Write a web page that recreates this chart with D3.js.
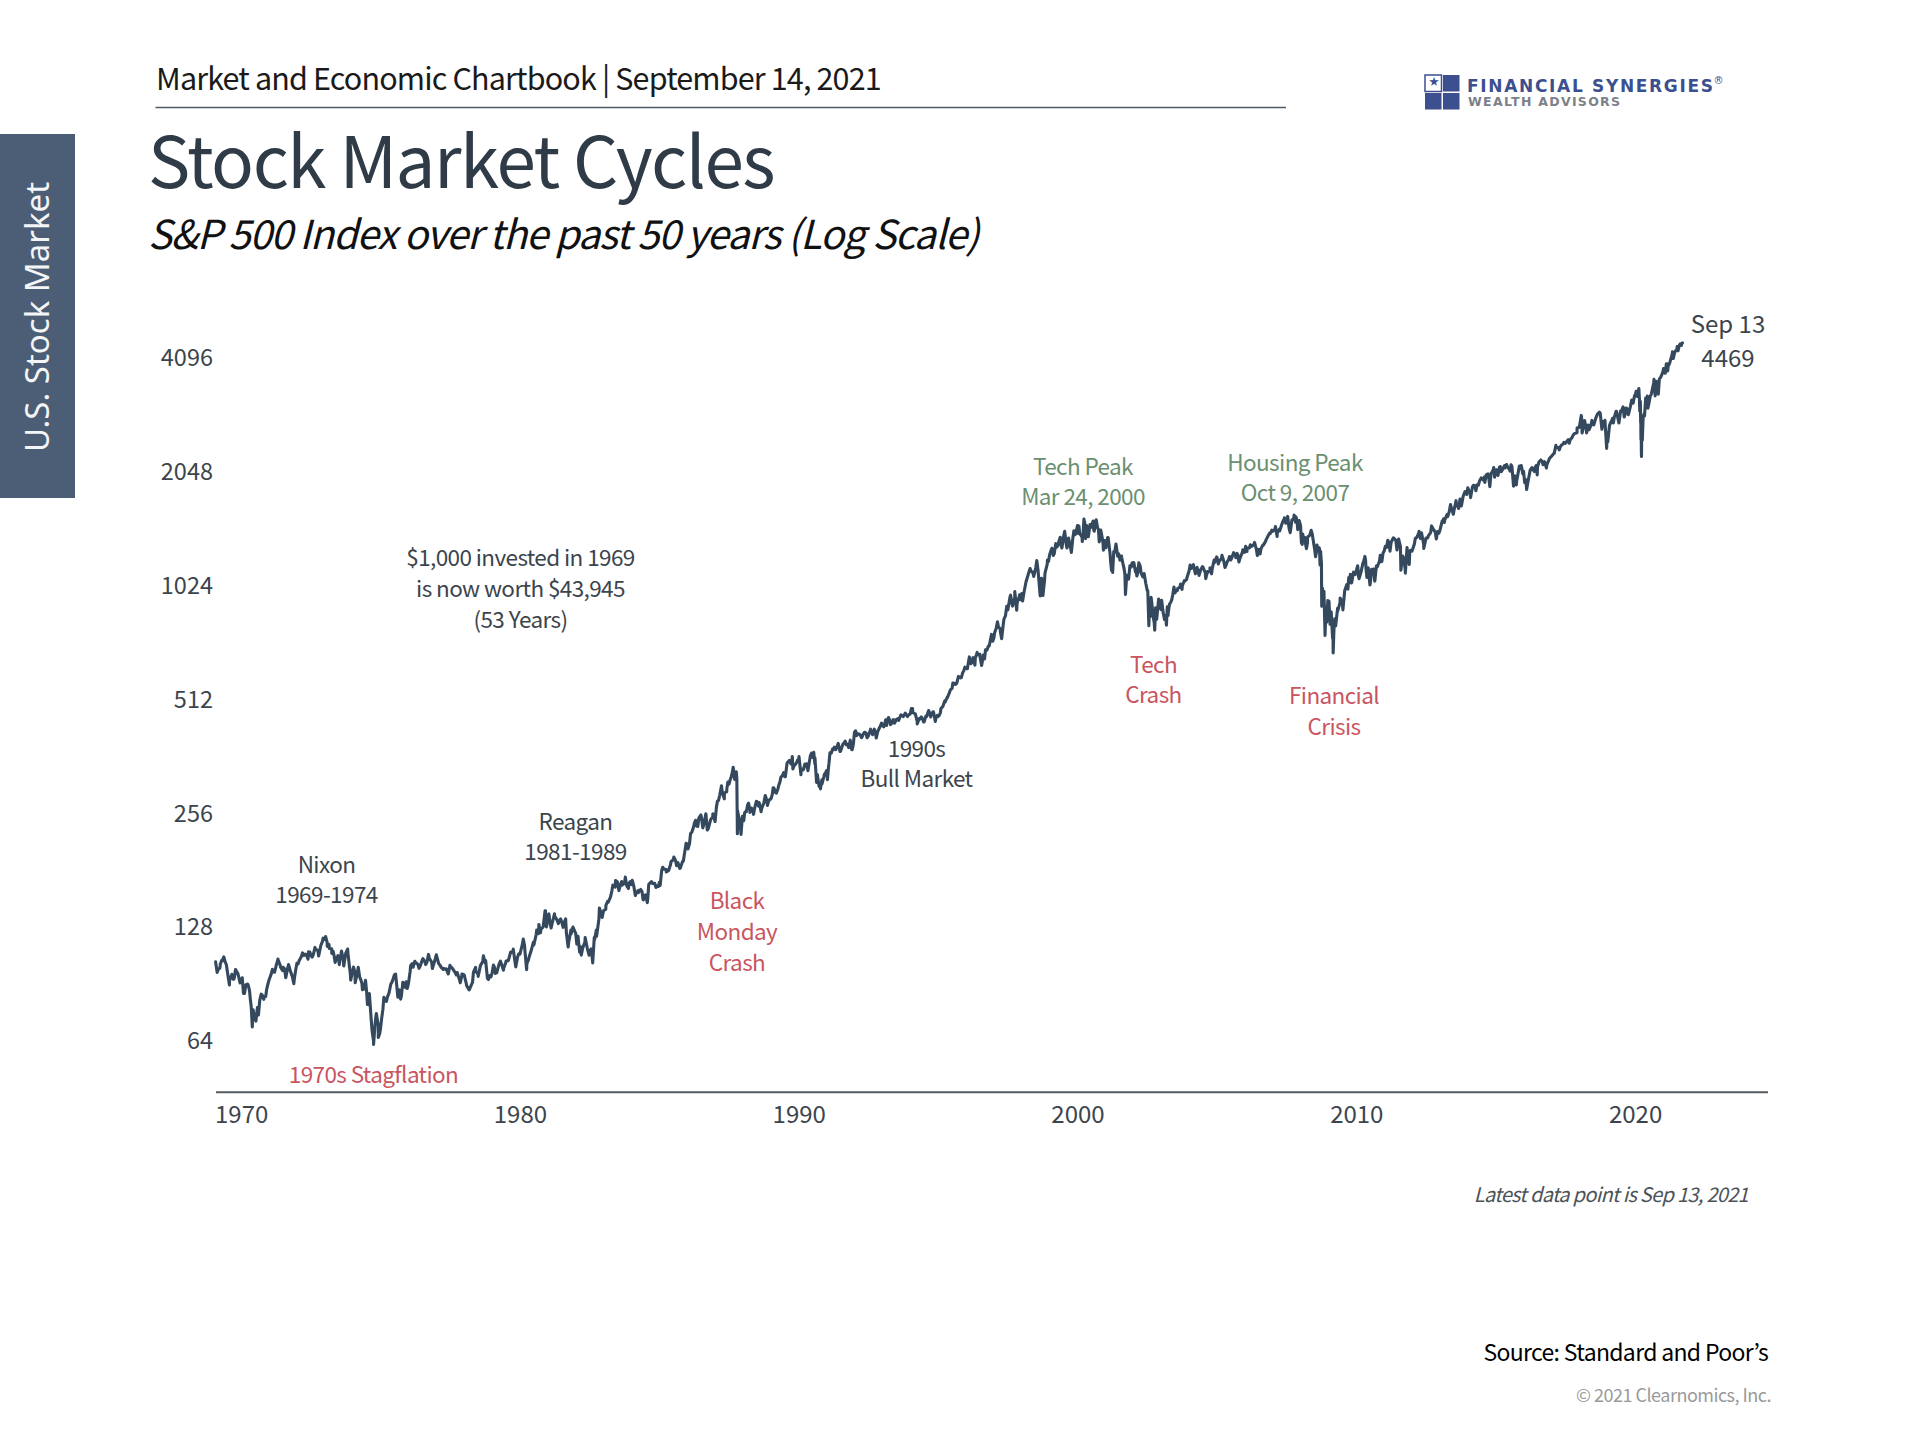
<!DOCTYPE html>
<html>
<head>
<meta charset="utf-8">
<script src="https://cdnjs.cloudflare.com/ajax/libs/d3/7.8.5/d3.min.js"></script>
<style>
  html, body { margin: 0; background: #fff; }
  svg { display: block; }
  text { font-family: "Noto Sans CJK JP", "Noto Sans", sans-serif; }
</style>
</head>
<body>
<svg id="chart" width="1920" height="1440"></svg>
<script>
// month-end closes, one row per year
const startYear = 1969;
const closes1970s = [
  103.0, 98.1, 101.5, 103.7, 103.5, 97.7, 91.8, 95.5, 93.1, 97.2, 93.8, 92.1,
  85.0, 89.5, 89.6, 81.5, 76.6, 72.7, 78.0, 81.5, 84.3, 83.3, 87.2, 92.2,
  95.9, 96.8, 100.3, 104.0, 99.6, 99.7, 95.6, 99.0, 98.3, 94.2, 94.0, 102.1,
  103.9, 106.6, 107.2, 107.7, 109.5, 107.1, 107.4, 111.1, 110.6, 111.6, 116.7, 118.1,
  116.0, 111.7, 111.5, 107.0, 105.0, 104.3, 108.2, 104.3, 108.4, 108.3, 96.0, 97.6,
  96.6, 96.2, 94.0, 90.3, 87.3, 86.0, 79.3, 72.2, 63.5, 73.9, 70.0, 68.6,
  77.0, 81.6, 83.4, 87.3, 91.2, 95.2, 88.8, 86.9, 83.9, 89.0, 91.2, 90.2,
  100.9, 99.7, 102.8, 101.6, 100.2, 104.3, 103.4, 102.9, 105.2, 102.9, 102.1, 107.5,
  102.0, 99.8, 98.4, 98.4, 96.1, 100.5, 98.9, 96.8, 96.5, 92.3, 94.8, 95.1,
  89.3, 87.0, 89.2, 96.8, 97.2, 95.5, 100.7, 103.3, 102.5, 93.2, 94.7, 96.1,
  99.9, 96.3, 101.6, 101.8, 99.1, 102.9, 103.8, 109.3, 109.3, 101.8, 106.2, 107.9
];
const closes1980s = [
  114.2, 113.7, 102.1, 106.3, 111.2, 114.2, 121.7, 122.4, 125.5, 127.5, 140.5, 135.8,
  129.6, 131.3, 136.0, 132.8, 132.6, 131.2, 130.9, 122.8, 116.2, 121.9, 126.4, 122.6,
  120.4, 113.1, 112.0, 116.4, 111.9, 109.6, 107.1, 119.5, 120.4, 133.7, 138.5, 140.6,
  145.3, 148.1, 153.0, 164.4, 162.4, 167.6, 162.6, 164.4, 166.1, 163.6, 166.4, 164.9,
  163.4, 157.1, 159.2, 160.1, 150.6, 153.2, 150.7, 166.7, 166.1, 166.1, 163.6, 167.2,
  179.6, 181.2, 180.7, 179.8, 189.6, 191.9, 190.9, 188.6, 182.1, 189.8, 202.2, 211.3,
  211.8, 226.9, 238.9, 235.5, 247.4, 250.8, 236.1, 252.9, 231.3, 244.0, 249.2, 242.2,
  274.1, 284.2, 291.7, 288.4, 290.1, 304.0, 318.7, 329.8, 321.8, 251.8, 230.3, 247.1,
  257.1, 267.8, 258.9, 261.3, 262.2, 273.5, 272.0, 261.5, 271.9, 279.0, 273.7, 277.7,
  297.5, 288.9, 294.9, 309.6, 320.5, 318.0, 346.1, 351.5, 349.2, 340.4, 346.0, 353.4
];
const closes1990s = [
  329.1, 331.9, 339.9, 330.8, 361.2, 358.0, 356.2, 322.6, 306.1, 304.0, 322.2, 330.2,
  343.9, 367.1, 375.2, 375.3, 389.8, 371.2, 387.8, 395.4, 387.9, 392.5, 375.2, 417.1,
  408.8, 412.7, 403.7, 415.0, 415.4, 408.1, 424.2, 414.0, 417.8, 418.7, 431.4, 435.7,
  438.8, 443.4, 451.7, 440.2, 450.2, 450.5, 448.1, 463.6, 458.9, 467.8, 461.8, 466.5,
  481.6, 467.1, 445.8, 450.9, 456.5, 444.3, 458.3, 475.5, 462.7, 472.4, 453.7, 459.3,
  470.4, 487.4, 500.7, 514.7, 533.4, 544.8, 562.1, 561.9, 584.4, 581.5, 605.4, 615.9,
  636.0, 640.4, 645.5, 654.2, 669.1, 670.6, 640.0, 652.0, 687.3, 705.3, 757.0, 740.7,
  786.2, 790.8, 757.1, 801.3, 848.3, 885.1, 954.3, 899.5, 947.3, 914.6, 955.4, 970.4,
  980.3, 1049.3, 1101.8, 1111.8, 1090.8, 1133.8, 1120.7, 957.3, 1017.0, 1098.7, 1163.6, 1229.2,
  1279.6, 1238.3, 1286.4, 1335.2, 1301.8, 1372.7, 1328.7, 1320.4, 1282.7, 1362.9, 1388.9, 1469.3
];
const closes2000s = [
  1394.5, 1366.4, 1498.6, 1452.4, 1420.6, 1454.6, 1430.8, 1517.7, 1436.5, 1429.4, 1315.0, 1320.3,
  1366.0, 1239.9, 1160.3, 1249.5, 1255.8, 1224.4, 1211.2, 1133.6, 1040.9, 1059.8, 1139.5, 1148.1,
  1130.2, 1106.7, 1147.4, 1076.9, 1067.1, 989.8, 911.6, 916.1, 815.3, 885.8, 936.3, 879.8,
  855.7, 841.2, 849.2, 916.9, 963.6, 974.5, 990.3, 1008.0, 996.0, 1050.7, 1058.2, 1111.9,
  1131.1, 1144.9, 1126.2, 1107.3, 1120.7, 1140.8, 1101.7, 1104.2, 1114.6, 1130.2, 1173.8, 1211.9,
  1181.3, 1203.6, 1180.6, 1156.9, 1191.5, 1191.3, 1234.2, 1220.3, 1228.8, 1207.0, 1249.5, 1248.3,
  1280.1, 1280.7, 1294.9, 1310.6, 1270.1, 1270.2, 1276.7, 1303.8, 1335.9, 1377.9, 1400.6, 1418.3,
  1438.2, 1406.8, 1420.9, 1482.4, 1530.6, 1503.4, 1455.3, 1474.0, 1526.8, 1549.4, 1481.1, 1468.4,
  1378.6, 1330.6, 1322.7, 1385.6, 1400.4, 1280.0, 1267.4, 1282.8, 1166.4, 968.8, 896.2, 903.3,
  825.9, 735.1, 797.9, 872.8, 919.1, 919.3, 987.5, 1020.6, 1057.1, 1036.2, 1095.6, 1115.1
];
const closes2010s = [
  1073.9, 1104.5, 1169.4, 1186.7, 1089.4, 1030.7, 1101.6, 1049.3, 1141.2, 1183.3, 1180.6, 1257.6,
  1286.1, 1327.2, 1325.8, 1363.6, 1345.2, 1320.6, 1292.3, 1218.9, 1131.4, 1253.3, 1247.0, 1257.6,
  1312.4, 1365.7, 1408.5, 1397.9, 1310.3, 1362.2, 1379.3, 1406.6, 1440.7, 1412.2, 1416.2, 1426.2,
  1498.1, 1514.7, 1569.2, 1597.6, 1630.7, 1606.3, 1685.7, 1633.0, 1681.6, 1756.5, 1805.8, 1848.4,
  1782.6, 1859.5, 1872.3, 1884.0, 1923.6, 1960.2, 1930.7, 2003.4, 1972.3, 2018.1, 2067.6, 2058.9,
  1995.0, 2104.5, 2067.9, 2085.5, 2107.4, 2063.1, 2103.8, 1972.2, 1920.0, 2079.4, 2080.4, 2043.9,
  1940.2, 1932.2, 2059.7, 2065.3, 2097.0, 2098.9, 2173.6, 2171.0, 2168.3, 2126.2, 2198.8, 2238.8,
  2278.9, 2363.6, 2362.7, 2384.2, 2411.8, 2423.4, 2470.3, 2471.7, 2519.4, 2575.3, 2584.8, 2673.6,
  2823.8, 2713.8, 2640.9, 2648.1, 2705.3, 2718.4, 2816.3, 2901.5, 2914.0, 2711.7, 2760.2, 2506.9,
  2704.1, 2784.5, 2834.4, 2945.8, 2752.1, 2941.8, 2980.4, 2926.5, 2976.7, 3037.6, 3141.0, 3230.8
];
const closes2020s = [
  3225.5, 2954.2, 2584.6, 2912.4, 3044.3, 3100.3, 3271.1, 3500.3, 3363.0, 3270.0, 3621.6, 3756.1,
  3714.2, 3811.2, 3972.9, 4181.2, 4204.1, 4297.5, 4395.3, 4440.0
];

// highs and lows between the month ends, as [date, value]
const swings1970s = [
  [1969.14, 96.6], [1969.24, 99.3], [1969.30, 103.9], [1969.38, 106.2], [1969.47, 101.2], [1969.53, 94.5], [1969.58, 89.5], [1969.66, 95.1], [1969.72, 92.6], [1969.80, 98.3], [1969.88, 96.0], [1969.96, 90.6],
  [1970.04, 93.5], [1970.12, 85.0], [1970.22, 90.0], [1970.30, 86.5], [1970.36, 78.6], [1970.40, 69.3], [1970.43, 76.9], [1970.47, 74.0], [1970.53, 71.8], [1970.62, 74.5], [1970.72, 84.6], [1970.81, 82.0], [1970.88, 83.4], [1970.96, 90.0],
  [1971.12, 98.4], [1971.20, 96.7], [1971.32, 104.8], [1971.41, 100.4], [1971.49, 97.7], [1971.55, 99.0], [1971.60, 93.5], [1971.70, 101.3], [1971.79, 96.2], [1971.89, 90.2], [1971.96, 98.3],
  [1972.04, 101.7], [1972.20, 108.8], [1972.30, 108.0], [1972.40, 104.7], [1972.47, 109.2], [1972.55, 106.0], [1972.65, 112.5], [1972.78, 106.8], [1972.86, 114.0], [1972.94, 119.0],
  [1973.03, 120.2], [1973.09, 113.2], [1973.15, 114.5], [1973.25, 108.5], [1973.30, 109.9], [1973.37, 102.7], [1973.47, 107.0], [1973.52, 101.3], [1973.60, 110.0], [1973.68, 100.5], [1973.82, 111.4], [1973.88, 100.7], [1973.93, 92.2],
  [1974.03, 99.8], [1974.09, 90.7], [1974.20, 99.7], [1974.30, 92.0], [1974.35, 86.9], [1974.40, 89.5], [1974.46, 92.1], [1974.53, 79.5], [1974.60, 84.9], [1974.70, 67.4], [1974.75, 62.3], [1974.80, 69.8], [1974.85, 75.2], [1974.92, 65.0], [1974.97, 66.6],
  [1975.04, 73.0], [1975.12, 83.0], [1975.21, 81.0], [1975.30, 85.0], [1975.37, 90.0], [1975.54, 95.6], [1975.62, 83.1], [1975.72, 82.1], [1975.80, 91.0], [1975.90, 88.0], [1975.96, 87.6],
  [1976.06, 97.0], [1976.14, 101.9], [1976.23, 103.4], [1976.38, 99.0], [1976.52, 105.0], [1976.62, 101.3], [1976.72, 107.8], [1976.86, 98.9], [1976.95, 104.0],
  [1977.01, 107.0], [1977.15, 100.5], [1977.26, 99.0], [1977.36, 98.7], [1977.43, 95.7], [1977.49, 100.9], [1977.72, 95.1], [1977.86, 90.7], [1977.92, 95.7],
  [1978.08, 90.0], [1978.18, 86.9], [1978.30, 91.0], [1978.41, 99.6], [1978.50, 94.3], [1978.69, 106.9], [1978.77, 103.9], [1978.87, 92.5], [1978.96, 94.0],
  [1979.05, 101.0], [1979.12, 96.0], [1979.30, 103.4], [1979.41, 97.9], [1979.50, 103.6], [1979.76, 111.3], [1979.85, 99.9], [1979.96, 108.2]
];
const swings1980s = [
  [1980.12, 118.4], [1980.18, 110.0], [1980.24, 98.2], [1980.30, 104.0], [1980.48, 116.0], [1980.60, 125.0], [1980.68, 129.3], [1980.74, 123.0], [1980.90, 140.5], [1980.95, 127.4],
  [1981.04, 138.0], [1981.12, 126.6], [1981.24, 138.0], [1981.38, 130.0], [1981.46, 133.8], [1981.55, 127.1], [1981.64, 133.8], [1981.73, 112.8], [1981.83, 125.0], [1981.90, 127.3],
  [1982.04, 114.8], [1982.14, 109.3], [1982.20, 107.3], [1982.34, 119.5], [1982.48, 107.3], [1982.55, 111.5], [1982.61, 102.4], [1982.68, 118.0], [1982.74, 125.0], [1982.85, 142.9], [1982.95, 135.0],
  [1983.08, 142.0], [1983.15, 149.0], [1983.30, 159.0], [1983.43, 169.1], [1983.55, 159.0], [1983.65, 168.0], [1983.78, 172.6], [1983.89, 161.0], [1983.96, 168.0],
  [1984.03, 169.3], [1984.14, 154.3], [1984.25, 157.0], [1984.38, 158.0], [1984.43, 150.3], [1984.50, 155.0], [1984.57, 147.8], [1984.62, 165.0], [1984.72, 168.0], [1984.88, 162.0], [1984.97, 163.0],
  [1985.03, 164.0], [1985.12, 183.3], [1985.25, 178.0], [1985.40, 186.0], [1985.52, 195.1], [1985.62, 185.0], [1985.73, 182.0], [1985.86, 190.0], [1985.96, 212.0],
  [1986.03, 205.0], [1986.12, 225.0], [1986.24, 236.0], [1986.30, 244.0], [1986.38, 235.0], [1986.49, 252.0], [1986.56, 233.0], [1986.67, 254.0], [1986.72, 229.9], [1986.84, 245.0], [1986.92, 254.0], [1986.97, 247.0],
  [1987.05, 265.0], [1987.12, 275.0], [1987.23, 301.0], [1987.29, 284.0], [1987.33, 278.0], [1987.42, 295.0], [1987.46, 308.0], [1987.54, 312.0], [1987.60, 322.0], [1987.65, 336.8], [1987.70, 313.0], [1987.74, 323.0], [1987.76, 328.0], [1987.78, 314.5], [1987.80, 224.8], [1987.81, 258.4], [1987.85, 248.0], [1987.90, 242.0], [1987.93, 223.9], [1987.98, 250.0],
  [1988.03, 243.4], [1988.06, 255.0], [1988.12, 257.0], [1988.20, 271.0], [1988.25, 256.0], [1988.30, 263.0], [1988.38, 253.0], [1988.48, 273.8], [1988.56, 266.0], [1988.65, 257.0], [1988.74, 270.0], [1988.80, 283.7], [1988.88, 267.0], [1988.96, 277.0],
  [1989.05, 285.0], [1989.11, 297.0], [1989.20, 288.0], [1989.28, 301.0], [1989.36, 317.0], [1989.46, 326.0], [1989.52, 318.0], [1989.60, 347.0], [1989.72, 344.0], [1989.77, 359.8], [1989.79, 333.6], [1989.88, 343.0], [1989.97, 353.0]
];
const swings1990s = [
  [1990.01, 359.7], [1990.08, 322.0], [1990.12, 333.0], [1990.22, 343.5], [1990.28, 344.3], [1990.33, 330.0], [1990.46, 367.4], [1990.54, 369.0], [1990.58, 344.0], [1990.64, 307.1], [1990.67, 322.0], [1990.73, 300.0], [1990.78, 295.5], [1990.83, 312.0], [1990.90, 318.0], [1990.96, 326.0],
  [1991.03, 312.5], [1991.07, 338.0], [1991.12, 368.0], [1991.22, 377.0], [1991.28, 381.0], [1991.36, 380.0], [1991.42, 389.0], [1991.48, 371.0], [1991.62, 390.0], [1991.70, 387.0], [1991.79, 380.0], [1991.85, 397.4], [1991.90, 375.2], [1991.96, 388.0],
  [1992.04, 420.8], [1992.12, 413.0], [1992.20, 411.0], [1992.26, 404.0], [1992.36, 417.0], [1992.45, 403.5], [1992.58, 425.1], [1992.65, 411.0], [1992.71, 425.0], [1992.78, 402.7], [1992.88, 426.0], [1992.97, 441.0],
  [1993.05, 431.0], [1993.12, 450.0], [1993.15, 434.8], [1993.22, 456.3], [1993.29, 437.0], [1993.38, 450.0], [1993.44, 441.0], [1993.56, 453.0], [1993.66, 463.0], [1993.72, 461.0], [1993.82, 468.6], [1993.90, 459.0],
  [1994.04, 482.0], [1994.09, 470.0], [1994.18, 467.0], [1994.25, 438.9], [1994.32, 453.0], [1994.40, 458.0], [1994.48, 444.0], [1994.56, 460.0], [1994.66, 476.1], [1994.73, 458.0], [1994.81, 472.0], [1994.90, 445.5], [1994.97, 462.0],
  [1995.03, 461.0], [1995.10, 482.0], [1995.24, 505.0], [1995.33, 517.0], [1995.44, 540.0], [1995.53, 563.0], [1995.62, 558.0], [1995.73, 586.0], [1995.80, 581.0], [1995.88, 599.0], [1995.96, 620.0],
  [1996.05, 614.0], [1996.12, 660.0], [1996.18, 633.5], [1996.25, 657.0], [1996.32, 628.0], [1996.40, 678.5], [1996.50, 663.0], [1996.56, 626.7], [1996.62, 667.0], [1996.70, 689.0], [1996.80, 704.0], [1996.92, 756.0], [1996.96, 726.0],
  [1997.03, 766.0], [1997.13, 817.0], [1997.22, 785.0], [1997.28, 737.7], [1997.36, 830.0], [1997.46, 898.0], [1997.50, 878.0], [1997.60, 961.0], [1997.67, 900.0], [1997.75, 983.1], [1997.82, 876.99], [1997.86, 930.0], [1997.92, 963.0], [1997.96, 936.0],
  [1998.03, 927.7], [1998.16, 1050.0], [1998.30, 1130.5], [1998.38, 1108.0], [1998.43, 1078.0], [1998.54, 1186.8], [1998.60, 1085.0], [1998.66, 957.3], [1998.71, 1066.0], [1998.76, 959.4], [1998.82, 1056.0], [1998.92, 1190.0], [1998.96, 1180.0],
  [1999.07, 1275.0], [1999.13, 1225.0], [1999.22, 1316.0], [1999.30, 1300.0], [1999.38, 1367.6], [1999.44, 1281.0], [1999.54, 1418.8], [1999.62, 1281.4], [1999.68, 1362.0], [1999.78, 1247.4], [1999.87, 1422.0], [1999.94, 1403.0]
];
const swings2000s = [
  [2000.01, 1469.3], [2000.02, 1399.4], [2000.05, 1465.2], [2000.12, 1387.0], [2000.17, 1333.4], [2000.20, 1395.0], [2000.23, 1527.5], [2000.26, 1498.6], [2000.29, 1356.6], [2000.33, 1469.0], [2000.39, 1373.0], [2000.45, 1478.0], [2000.52, 1480.0], [2000.56, 1510.0], [2000.60, 1419.0], [2000.67, 1520.8], [2000.72, 1450.0], [2000.78, 1329.8], [2000.82, 1395.0], [2000.88, 1372.3], [2000.93, 1264.7], [2000.97, 1340.0],
  [2001.02, 1283.3], [2001.06, 1342.5], [2001.10, 1364.3], [2001.19, 1178.0], [2001.22, 1117.6], [2001.26, 1103.3], [2001.30, 1253.7], [2001.38, 1312.8], [2001.44, 1219.0], [2001.47, 1237.0], [2001.52, 1190.0], [2001.58, 1220.0], [2001.63, 1165.0], [2001.70, 1092.5], [2001.72, 965.8], [2001.76, 1085.0], [2001.82, 1079.0], [2001.88, 1150.0], [2001.96, 1170.0],
  [2002.02, 1172.5], [2002.08, 1108.0], [2002.13, 1080.0], [2002.20, 1170.3], [2002.28, 1103.0], [2002.35, 1074.0], [2002.39, 1097.0], [2002.45, 1032.0], [2002.52, 989.0], [2002.55, 843.4], [2002.56, 797.7], [2002.58, 898.0], [2002.60, 842.0], [2002.64, 949.4], [2002.71, 845.0], [2002.77, 776.8], [2002.80, 890.0], [2002.84, 830.0], [2002.91, 938.9], [2002.96, 889.0],
  [2003.02, 931.7], [2003.06, 878.0], [2003.12, 829.7], [2003.16, 850.0], [2003.19, 800.7], [2003.22, 895.8], [2003.25, 858.0], [2003.30, 911.0], [2003.38, 934.0], [2003.46, 1010.7], [2003.53, 985.0], [2003.60, 1003.0], [2003.70, 1029.0], [2003.76, 1018.0], [2003.84, 1045.0], [2003.92, 1066.0], [2003.97, 1095.0],
  [2004.04, 1155.0], [2004.12, 1139.0], [2004.16, 1157.8], [2004.23, 1095.0], [2004.29, 1139.0], [2004.36, 1084.1], [2004.48, 1144.0], [2004.60, 1063.2], [2004.66, 1110.0], [2004.75, 1135.0], [2004.81, 1095.0], [2004.90, 1190.0], [2004.99, 1213.5],
  [2005.05, 1163.0], [2005.18, 1225.3], [2005.29, 1137.5], [2005.37, 1178.0], [2005.45, 1216.0], [2005.52, 1200.0], [2005.60, 1245.0], [2005.68, 1208.0], [2005.72, 1240.0], [2005.79, 1176.8], [2005.93, 1268.0], [2005.99, 1248.0],
  [2006.03, 1294.2], [2006.08, 1254.0], [2006.20, 1307.0], [2006.35, 1325.8], [2006.45, 1223.7], [2006.52, 1270.0], [2006.55, 1236.0], [2006.65, 1305.0], [2006.75, 1340.0], [2006.90, 1406.0], [2006.97, 1428.0],
  [2007.10, 1459.7], [2007.16, 1374.1], [2007.24, 1437.0], [2007.38, 1515.0], [2007.42, 1539.2], [2007.47, 1490.0], [2007.54, 1553.1], [2007.60, 1433.0], [2007.63, 1406.7], [2007.69, 1520.0], [2007.77, 1565.2], [2007.82, 1500.0], [2007.87, 1520.0], [2007.90, 1433.3], [2007.95, 1515.0],
  [2008.03, 1325.0], [2008.06, 1310.5], [2008.08, 1395.0], [2008.13, 1355.0], [2008.15, 1367.0], [2008.21, 1276.6], [2008.25, 1368.0], [2008.38, 1426.6], [2008.46, 1336.0], [2008.54, 1214.9], [2008.59, 1305.0], [2008.63, 1256.0], [2008.68, 1277.6], [2008.70, 1156.4], [2008.72, 1255.0], [2008.76, 899.2], [2008.79, 1003.0], [2008.81, 907.0], [2008.84, 985.0], [2008.88, 752.4], [2008.91, 896.0], [2008.94, 816.0], [2008.98, 931.0],
  [2009.02, 927.0], [2009.06, 805.0], [2009.10, 869.0], [2009.15, 741.0], [2009.17, 676.5], [2009.20, 784.0], [2009.23, 832.0], [2009.26, 797.0], [2009.33, 888.0], [2009.42, 945.0], [2009.52, 879.1], [2009.58, 980.0], [2009.66, 1026.0], [2009.70, 998.0], [2009.73, 1071.0], [2009.79, 1092.0], [2009.81, 1036.0], [2009.90, 1106.0], [2009.96, 1090.0]
];
const swings2010s = [
  [2010.05, 1150.2], [2010.10, 1063.1], [2010.24, 1170.0], [2010.31, 1217.3], [2010.35, 1128.0], [2010.38, 1071.6], [2010.43, 1135.0], [2010.49, 1022.6], [2010.55, 1125.0], [2010.62, 1127.0], [2010.66, 1047.0], [2010.72, 1148.0], [2010.86, 1225.9], [2010.90, 1178.0], [2010.96, 1243.0],
  [2011.04, 1295.0], [2011.13, 1343.0], [2011.21, 1256.9], [2011.33, 1363.6], [2011.46, 1265.4], [2011.52, 1353.2], [2011.60, 1119.5], [2011.65, 1210.0], [2011.70, 1204.0], [2011.76, 1099.2], [2011.82, 1285.1], [2011.90, 1158.7], [2011.94, 1263.0],
  [2012.03, 1277.0], [2012.12, 1361.0], [2012.25, 1419.0], [2012.30, 1358.6], [2012.34, 1405.0], [2012.42, 1278.0], [2012.46, 1314.9], [2012.56, 1362.0], [2012.70, 1465.8], [2012.87, 1353.3], [2012.96, 1402.4],
  [2013.08, 1509.0], [2013.13, 1530.9], [2013.16, 1497.0], [2013.28, 1552.0], [2013.38, 1669.2], [2013.48, 1573.1], [2013.58, 1709.7], [2013.67, 1630.5], [2013.72, 1725.5], [2013.77, 1655.5], [2013.90, 1807.0], [2013.96, 1775.0],
  [2014.10, 1741.9], [2014.20, 1878.0], [2014.29, 1815.7], [2014.38, 1878.0], [2014.48, 1962.9], [2014.60, 1978.0], [2014.61, 1909.6], [2014.72, 2011.4], [2014.79, 1862.5], [2014.84, 2018.0], [2014.93, 2090.6], [2014.96, 1972.7],
  [2015.04, 2062.0], [2015.08, 1992.7], [2015.14, 2100.0], [2015.20, 2040.2], [2015.32, 2117.7], [2015.39, 2130.8], [2015.52, 2046.7], [2015.55, 2128.3], [2015.64, 1867.6], [2015.68, 1990.0], [2015.74, 1881.8], [2015.85, 2109.8], [2015.92, 2116.0], [2015.97, 2012.7],
  [2016.04, 1906.9], [2016.08, 1940.0], [2016.11, 1829.1], [2016.24, 2063.0], [2016.30, 2091.6], [2016.39, 2040.0], [2016.46, 2119.1], [2016.49, 2000.5], [2016.56, 2169.0], [2016.62, 2190.2], [2016.70, 2127.8], [2016.82, 2085.2], [2016.93, 2212.4],
  [2017.10, 2280.9], [2017.16, 2395.9], [2017.28, 2329.0], [2017.37, 2402.0], [2017.45, 2439.0], [2017.60, 2477.6], [2017.64, 2425.6], [2017.78, 2550.0], [2017.92, 2660.0],
  [2018.07, 2872.9], [2018.10, 2581.0], [2018.19, 2786.6], [2018.26, 2581.9], [2018.32, 2708.6], [2018.35, 2634.0], [2018.45, 2786.9], [2018.52, 2713.0], [2018.65, 2897.0], [2018.72, 2930.8], [2018.81, 2641.3], [2018.84, 2767.0], [2018.89, 2690.7], [2018.92, 2790.0], [2018.98, 2351.1], [2018.995, 2467.7],
  [2019.02, 2447.9], [2019.12, 2745.7], [2019.19, 2822.5], [2019.22, 2743.1], [2019.32, 2945.8], [2019.42, 2744.5], [2019.48, 2950.0], [2019.57, 3025.9], [2019.61, 2844.7], [2019.68, 3006.7], [2019.76, 2887.6], [2019.88, 3153.6], [2019.93, 3093.2], [2019.98, 3240.0]
];
const swings2020s = [
  [2020.04, 3329.6], [2020.09, 3248.9], [2020.135, 3386.2], [2020.16, 3128.2], [2020.18, 2954.2], [2020.19, 3130.1], [2020.20, 2746.6], [2020.205, 2882.2], [2020.21, 2480.6], [2020.22, 2711.0], [2020.225, 2304.9], [2020.23, 2237.4], [2020.24, 2630.1], [2020.26, 2470.5], [2020.29, 2846.1], [2020.34, 2863.7], [2020.38, 3193.9], [2020.44, 3232.4], [2020.46, 3002.1], [2020.54, 3226.6], [2020.68, 3580.8], [2020.72, 3236.9], [2020.78, 3534.2], [2020.83, 3310.2], [2020.87, 3585.2], [2020.97, 3702.3],
  [2021.02, 3824.7], [2021.07, 3714.2], [2021.12, 3934.8], [2021.17, 3768.5], [2021.20, 3943.3], [2021.22, 3915.0], [2021.34, 4232.6], [2021.37, 4063.0], [2021.42, 4221.9], [2021.51, 4369.6], [2021.54, 4258.5], [2021.62, 4441.7], [2021.66, 4400.0]
];
const lastPoint = [2021.70, 4469];

const yTicks = [64, 128, 256, 512, 1024, 2048, 4096];
const xTicks = [1970, 1980, 1990, 2000, 2010, 2020];

const dark = "#3c454d", red = "#c9555f", green = "#6b8f70", lineColor = "#34495e";

// text, centre x, baselines
const notes = [
  { lines: ["Nixon", "1969-1974"], x: 326.5, ys: [873, 903], color: dark },
  { lines: ["Reagan", "1981-1989"], x: 575.5, ys: [830, 860], color: dark },
  { lines: ["1990s", "Bull Market"], x: 916.5, ys: [757, 787], color: dark },
  { lines: ["$1,000 invested in 1969", "is now worth $43,945", "(53 Years)"], x: 520.5, ys: [566, 597, 628], color: dark },
  { lines: ["1970s Stagflation"], x: 373.5, ys: [1083], color: red },
  { lines: ["Black", "Monday", "Crash"], x: 737, ys: [909, 940, 971], color: red },
  { lines: ["Tech", "Crash"], x: 1153.5, ys: [673, 703], color: red },
  { lines: ["Financial", "Crisis"], x: 1334, ys: [704, 735], color: red },
  { lines: ["Tech Peak", "Mar 24, 2000"], x: 1083, ys: [475, 505], color: green },
  { lines: ["Housing Peak", "Oct 9, 2007"], x: 1295, ys: [471, 501], color: green }
];
const endNote = ["Sep 13", "4469"];

const svg = d3.select("#chart");

const x = d3.scaleLinear().domain([1969.08, 2024.75]).range([215.5, 1767.5]);
const y = d3.scaleLog().base(2).domain([64, 4096]).range([1040, 357.2]);

// merge month ends and swings into one series
const closes = [].concat(closes1970s, closes1980s, closes1990s, closes2000s, closes2010s, closes2020s);
const monthly = closes.map((v, i) => [startYear + (i + 1) / 12, v]);
const series = monthly.concat(swings1970s, swings1980s, swings1990s, swings2000s, swings2010s, swings2020s, [lastPoint])
  .filter(d => d[0] >= 1969.08)
  .sort((a, b) => a[0] - b[0]);

// header
svg.append("text").attr("x", 156).attr("y", 90).attr("font-size", 30.5).attr("fill", "#1a1a1a")
  .style("letter-spacing", "-0.85px")
  .text("Market and Economic Chartbook | September 14, 2021");
svg.append("line").attr("x1", 155.5).attr("x2", 1286).attr("y1", 107.5).attr("y2", 107.5)
  .attr("stroke", "#4d5c68").attr("stroke-width", 1.5);
svg.append("text").attr("x", 148).attr("y", 188).attr("font-size", 71).attr("fill", "#2f3b46")
  .style("letter-spacing", "-1.5px")
  .text("Stock Market Cycles");
svg.append("text").attr("x", 148).attr("y", 249).attr("font-size", 40).attr("font-style", "italic").attr("fill", "#111")
  .style("letter-spacing", "-1.2px")
  .text("S&P 500 Index over the past 50 years (Log Scale)");

// side tab
svg.append("rect").attr("x", 0).attr("y", 134).attr("width", 75).attr("height", 364).attr("fill", "#4b5e75");
svg.append("text").attr("transform", "translate(49,317) rotate(-90)").attr("text-anchor", "middle")
  .attr("font-size", 33).attr("fill", "#f4f5f7").style("font-family", "'Noto Sans', sans-serif")
  .text("U.S. Stock Market");

// logo
const logo = svg.append("g");
const logoBlue = "#3c4f8e";
[[1425, 75], [1443, 75], [1425, 93], [1443, 93]].forEach((d, i) => {
  logo.append("rect").attr("x", d[0]).attr("y", d[1]).attr("width", 16.5).attr("height", 16.5)
    .attr("fill", i === 0 ? "#fff" : logoBlue).attr("stroke", i === 0 ? logoBlue : "none").attr("stroke-width", 1.5);
});
logo.append("text").attr("x", 1429).attr("y", 85).attr("font-size", 10).attr("fill", logoBlue).text("★");
logo.append("text").attr("x", 1467).attr("y", 91.5).attr("font-size", 17).attr("font-weight", "bold").attr("fill", logoBlue)
  .style("font-family", "'DejaVu Sans', sans-serif").attr("textLength", 246).text("FINANCIAL SYNERGIES");
logo.append("text").attr("x", 1713.5).attr("y", 84).attr("font-size", 10).attr("fill", logoBlue)
  .style("font-family", "'DejaVu Sans', sans-serif").text("®");
logo.append("text").attr("x", 1468).attr("y", 105.5).attr("font-size", 12.5).attr("font-weight", "bold").attr("fill", "#7c8087")
  .style("font-family", "'DejaVu Sans', sans-serif").attr("textLength", 152).text("WEALTH ADVISORS");

// axes
const yAxis = svg.append("g").attr("transform", "translate(215,0)")
  .call(d3.axisLeft(y).tickValues(yTicks).tickSize(0).tickPadding(2).tickFormat(d3.format("d")));
yAxis.select(".domain").remove();
const xAxis = svg.append("g").attr("transform", "translate(0,1091.7)")
  .call(d3.axisBottom(x).tickValues(xTicks).tickSize(0).tickPadding(14.5).tickSizeOuter(0).tickFormat(d3.format("d")));
xAxis.select(".domain").attr("stroke", "#555b60").attr("stroke-width", 2);
svg.selectAll(".tick text").attr("fill", dark)
  .style("font-family", "'Noto Sans CJK JP', sans-serif");
yAxis.selectAll(".tick text").attr("font-size", 23.5).attr("dy", "0.37em");
xAxis.selectAll(".tick text").attr("font-size", 24);

// index line
const line = d3.line().x(d => x(d[0])).y(d => y(d[1]));
svg.append("path").datum(series).attr("d", line).attr("fill", "none")
  .attr("stroke", lineColor).attr("stroke-width", 3.1).attr("stroke-linejoin", "round").attr("stroke-linecap", "round");

// annotations
notes.forEach(n => {
  n.lines.forEach((t, i) => {
    svg.append("text").attr("x", n.x).attr("y", n.ys[i]).attr("text-anchor", "middle")
      .attr("font-size", 22.5).attr("fill", n.color).style("letter-spacing", "-0.6px").text(t);
  });
});
endNote.forEach((t, i) => {
  svg.append("text").attr("x", 1728).attr("y", [333, 367][i]).attr("text-anchor", "middle")
    .attr("font-size", 24).attr("fill", dark).text(t);
});

// footer notes
svg.append("text").attr("x", 1748).attr("y", 1202).attr("text-anchor", "end").attr("font-size", 20)
  .attr("font-style", "italic").attr("fill", "#4c5358").style("letter-spacing", "-0.7px").text("Latest data point is Sep 13, 2021");
svg.append("text").attr("x", 1768).attr("y", 1361).attr("text-anchor", "end").attr("font-size", 23)
  .attr("fill", "#000").style("letter-spacing", "-0.67px").text("Source: Standard and Poor’s");
svg.append("text").attr("x", 1771).attr("y", 1402).attr("text-anchor", "end").attr("font-size", 18)
  .attr("fill", "#9a9a9a").style("letter-spacing", "-0.5px").text("© 2021 Clearnomics, Inc.");
</script>
</body>
</html>
